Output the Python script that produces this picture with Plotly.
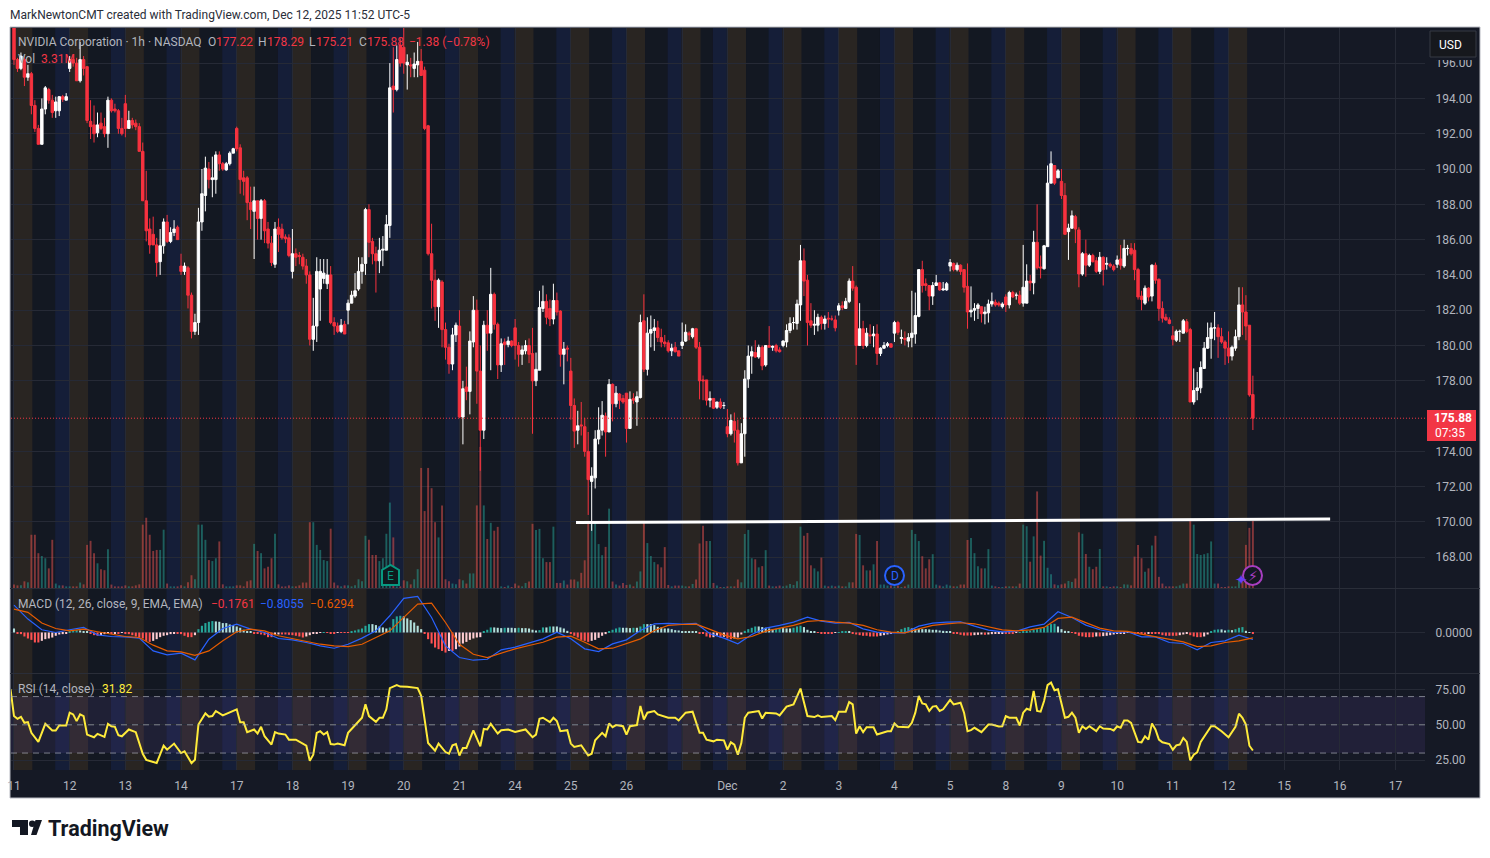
import plotly.graph_objects as go

WIDTH, HEIGHT = 1490, 858
FONT = "Roboto"

# hourly bars, one row per session (4:00-20:00, 16 bars; the half day has 13)
open_prices = [
    198.2, 196.2, 195.7, 196.2, 195.2, 195.4, 193.6, 192.3, 191.4, 193.4, 194.5, 193.9, 193.3, 193.3, 194.1, 193.9,
    195.7, 196.2, 196.0, 195.0, 196.2, 195.8, 192.7, 192.5, 192.05, 192.6, 192.4, 192.0, 193.9, 193.4, 193.3, 192.3,
    193.7, 192.3, 192.75, 192.6, 192.4, 191.0, 188.2, 186.6, 186.3, 185.7, 184.75, 185.65, 187.0, 185.9, 186.4, 186.7,
    184.5, 184.2, 184.4, 182.85, 180.8, 181.3, 187.0, 188.5, 190.0, 189.4, 189.4, 190.8, 190.3, 189.95, 190.3, 190.9,
    192.3, 191.2, 189.5, 189.5, 188.1, 187.6, 188.2, 187.2, 188.2, 186.6, 185.8, 184.6, 186.7, 186.6, 186.15, 186.1,
    184.2, 185.2, 185.1, 185.0, 184.5, 184.0, 180.35, 181.1, 183.2, 183.8, 183.5, 184.0, 181.3, 181.1, 180.8, 181.2,
    182.0, 182.4, 182.8, 183.2, 184.2, 184.65, 187.7, 185.9, 185.2, 184.8, 185.4, 185.4, 186.8, 194.7, 194.5, 197.0,
    196.9, 195.9, 195.9, 195.7, 195.9, 196.1, 195.6, 192.45, 185.2, 183.7, 182.2, 183.6, 180.9, 179.9, 178.95, 180.6,
    181.1, 175.95, 177.65, 177.4, 180.2, 182.0, 178.55, 175.2, 181.15, 180.7, 182.9, 181.2, 178.9, 180.2, 180.05, 180.25,
    181.0, 180.0, 179.5, 179.7, 180.0, 179.55, 178.0, 178.6, 182.1, 182.5, 182.1, 181.5, 182.55, 181.95, 179.5, 179.85,
    178.55, 176.6, 175.2, 175.5, 175.4, 174.0, 172.3, 172.5, 174.7, 175.2, 176.0, 175.1, 177.8, 176.7, 177.25, 177.0,
    177.3, 175.3, 177.0, 176.8, 177.05, 181.4, 178.65, 180.7, 180.85, 181.0, 180.45, 180.2, 180.15, 179.7, 179.9, 179.7,
    180.0, 180.25, 180.7, 180.5, 180.95, 179.9, 178.05, 178.05, 176.9, 177.0, 176.5, 176.8, 176.6,
    175.4, 175.0, 175.7, 175.2, 173.35, 175.0, 178.1, 179.4, 179.6, 179.35, 179.9, 178.9, 180.0, 179.9, 180.0, 179.75,
    180.0, 180.2, 180.85, 181.3, 181.25, 182.3, 184.8, 183.7, 181.4, 181.15, 181.15, 181.6, 181.25, 181.55, 181.5, 181.45,
    182.0, 182.25, 182.1, 182.5, 183.65, 183.3, 180.0, 180.95, 180.0, 180.6, 180.55, 180.65, 179.55, 179.85, 180.0, 180.1,
    180.7, 181.3, 180.4, 180.4, 180.25, 180.45, 180.65, 181.65, 184.3, 183.5, 183.4, 182.8, 183.4, 183.55, 183.15, 183.15,
    184.5, 184.65, 184.3, 184.55, 184.3, 183.35, 181.9, 182.0, 182.1, 182.2, 181.8, 181.85, 182.35, 182.45, 182.4, 182.2,
    182.75, 182.3, 183.0, 182.85, 182.85, 182.4, 182.4, 183.65, 183.55, 185.85, 184.45, 184.35, 185.6, 189.2, 190.2, 189.5,
    189.3, 188.5, 186.45, 186.65, 187.3, 186.55, 184.05, 185.2, 184.55, 185.1, 184.8, 184.2, 185.0, 184.6, 184.6, 184.5,
    184.6, 184.9, 184.5, 185.5, 185.5, 185.4, 184.3, 182.8, 182.4, 183.25, 182.8, 184.55, 183.75, 182.1, 181.6, 181.45,
    180.55, 180.3, 180.8, 180.7, 181.35, 180.9, 176.8, 177.45, 177.6, 178.7, 179.85, 180.4, 181.0, 181.0, 180.5, 180.2,
    179.85, 179.4, 179.85, 180.5, 182.3, 181.9, 181.15, 177.22,
]
high_prices = [
    198.5, 196.3, 196.6, 196.4, 195.9, 195.5, 193.9, 192.5, 194.0, 194.7, 194.6, 194.2, 194.1, 194.1, 194.2, 194.3,
    196.4, 196.5, 196.3, 197.2, 196.4, 195.8, 193.9, 193.6, 193.2, 193.2, 192.9, 194.1, 194.0, 193.7, 193.4, 192.9,
    194.2, 193.3, 192.9, 192.8, 192.6, 191.5, 189.9, 187.2, 187.3, 186.1, 186.6, 187.2, 187.4, 186.7, 187.1, 186.8,
    185.2, 184.7, 184.5, 183.0, 181.8, 187.8, 190.0, 190.7, 190.4, 190.7, 191.0, 191.0, 190.4, 190.4, 191.0, 191.2,
    192.4, 191.4, 189.9, 189.6, 189.0, 189.0, 188.2, 188.3, 188.3, 187.0, 186.2, 187.0, 187.2, 186.9, 186.3, 186.3,
    186.6, 185.5, 185.3, 185.2, 184.9, 184.2, 182.7, 185.0, 184.9, 184.9, 184.9, 184.5, 181.6, 181.3, 181.5, 181.4,
    182.6, 183.1, 184.1, 185.0, 185.0, 187.8, 188.0, 186.1, 185.6, 186.1, 186.2, 187.4, 196.0, 196.9, 197.0, 197.4,
    198.5, 196.5, 196.3, 196.6, 197.2, 196.8, 195.8, 192.5, 186.9, 184.3, 183.8, 183.7, 181.3, 180.1, 181.0, 181.3,
    182.0, 178.0, 178.8, 180.8, 182.8, 182.6, 180.0, 181.4, 182.0, 184.4, 183.0, 181.3, 180.4, 180.4, 180.5, 180.3,
    181.5, 180.2, 180.0, 180.3, 180.4, 181.0, 179.6, 183.1, 183.4, 182.9, 182.6, 183.5, 183.0, 182.0, 180.2, 180.0,
    179.3, 177.0, 176.3, 176.8, 175.9, 175.1, 173.1, 175.2, 176.5, 176.85, 176.2, 178.1, 177.85, 177.7, 177.3, 177.2,
    177.3, 177.4, 177.3, 177.4, 181.75, 182.9, 181.6, 181.7, 181.5, 181.4, 180.95, 180.6, 180.3, 180.1, 180.2, 179.7,
    181.3, 181.2, 180.8, 181.0, 181.0, 180.2, 178.3, 178.05, 177.4, 177.0, 176.8, 177.0, 176.8,
    176.4, 176.1, 176.2, 175.8, 175.6, 178.6, 180.0, 179.95, 180.3, 180.05, 180.0, 180.0, 181.1, 180.0, 180.1, 179.9,
    180.3, 181.2, 181.6, 181.6, 182.6, 185.7, 185.5, 184.0, 182.4, 182.0, 181.8, 181.7, 181.7, 181.9, 181.7, 181.7,
    182.4, 182.5, 182.7, 183.8, 184.5, 183.4, 182.4, 181.4, 181.0, 181.2, 181.1, 181.2, 179.9, 180.2, 180.2, 180.1,
    181.4, 181.4, 180.9, 180.8, 180.7, 183.1, 183.0, 184.3, 184.8, 183.8, 183.4, 183.6, 184.0, 183.6, 183.6, 183.6,
    184.9, 184.7, 184.7, 184.6, 184.3, 184.65, 183.35, 182.4, 182.4, 182.2, 182.2, 182.6, 183.0, 182.6, 182.5, 182.45,
    182.9, 183.1, 183.1, 183.0, 183.1, 185.7, 184.6, 184.0, 186.5, 188.0, 185.1, 185.7, 190.2, 191.0, 190.2, 190.0,
    190.0, 189.2, 186.9, 187.65, 187.4, 186.7, 185.3, 186.0, 185.2, 185.2, 185.0, 185.3, 185.05, 185.0, 184.7, 184.6,
    185.1, 185.7, 186.0, 185.7, 185.8, 185.8, 184.4, 183.1, 183.4, 183.3, 184.6, 184.7, 183.8, 182.5, 181.8, 181.6,
    181.1, 180.9, 180.9, 181.5, 181.5, 181.0, 178.7, 178.5, 179.1, 180.2, 181.3, 181.3, 181.9, 181.2, 181.0, 180.3,
    180.8, 180.0, 180.9, 183.3, 183.3, 182.85, 181.15, 178.29,
]
low_prices = [
    195.9, 195.5, 195.6, 194.7, 195.0, 193.1, 192.1, 191.4, 191.4, 193.1, 193.7, 192.9, 192.9, 193.0, 193.8, 193.9,
    195.5, 195.8, 195.0, 194.9, 195.3, 192.6, 191.7, 191.5, 191.8, 192.2, 191.8, 191.2, 193.2, 193.2, 192.0, 191.9,
    191.8, 192.3, 192.3, 192.2, 191.0, 188.2, 185.9, 185.2, 185.7, 183.9, 184.0, 185.2, 185.8, 185.8, 186.2, 186.0,
    184.0, 184.0, 182.1, 180.4, 180.6, 180.6, 186.5, 187.6, 188.9, 188.4, 188.6, 189.9, 189.9, 189.9, 190.2, 190.9,
    191.0, 188.6, 188.5, 187.1, 186.6, 184.9, 186.0, 186.0, 185.8, 185.5, 184.5, 184.4, 185.3, 186.0, 185.8, 185.0,
    183.8, 184.5, 184.6, 184.3, 183.5, 180.0, 179.7, 180.2, 181.4, 183.5, 183.2, 181.2, 180.6, 180.7, 180.7, 180.65,
    181.2, 182.4, 182.7, 183.1, 183.5, 184.0, 185.0, 184.6, 183.0, 184.1, 184.5, 185.4, 186.1, 193.2, 194.4, 195.8,
    195.4, 194.5, 195.2, 195.2, 195.2, 195.3, 192.2, 185.1, 182.1, 181.4, 181.0, 179.9, 179.2, 178.4, 178.6, 180.2,
    175.9, 174.4, 176.9, 176.1, 179.9, 176.7, 172.9, 174.7, 179.7, 178.6, 180.9, 178.1, 178.5, 178.9, 179.9, 179.9,
    179.2, 178.8, 178.9, 179.5, 179.0, 175.0, 177.7, 178.6, 181.9, 181.2, 181.1, 181.2, 181.7, 178.8, 177.8, 179.1,
    175.8, 174.2, 174.4, 174.9, 173.7, 170.4, 169.5, 171.9, 174.4, 174.9, 173.7, 175.1, 175.7, 176.5, 176.4, 176.7,
    174.5, 175.3, 176.7, 175.45, 177.0, 178.5, 178.3, 179.9, 179.7, 180.2, 179.9, 179.9, 179.6, 179.4, 179.6, 179.4,
    179.8, 180.2, 180.3, 180.4, 179.8, 176.95, 176.9, 176.6, 176.5, 176.4, 176.4, 176.4, 176.4,
    174.8, 174.9, 174.5, 173.2, 173.4, 173.7, 177.6, 178.4, 179.3, 179.25, 178.6, 178.8, 179.9, 179.7, 179.6, 179.6,
    179.9, 179.9, 180.7, 180.9, 180.9, 181.4, 182.8, 180.0, 181.0, 180.6, 180.8, 180.9, 180.9, 181.0, 181.4, 180.8,
    181.7, 182.0, 182.1, 182.4, 183.1, 178.9, 180.0, 179.8, 179.9, 180.1, 179.9, 178.9, 179.4, 179.8, 179.9, 179.9,
    180.2, 180.6, 180.1, 180.0, 179.9, 179.9, 180.1, 181.6, 183.0, 183.1, 182.0, 182.3, 183.4, 183.1, 183.1, 183.1,
    184.2, 184.2, 184.2, 184.0, 183.0, 180.95, 181.6, 181.4, 181.5, 181.3, 181.2, 181.3, 182.2, 182.2, 182.2, 182.1,
    181.9, 182.1, 182.7, 182.6, 182.3, 182.2, 182.4, 183.1, 182.9, 184.3, 183.8, 184.3, 185.6, 189.2, 189.1, 189.5,
    188.3, 186.3, 184.85, 186.6, 185.8, 183.3, 183.95, 183.9, 184.45, 184.7, 184.1, 184.05, 183.4, 184.3, 184.4, 184.2,
    184.4, 184.3, 184.4, 185.1, 185.1, 183.7, 182.6, 182.0, 182.3, 182.5, 182.5, 183.5, 181.4, 181.3, 181.4, 181.2,
    180.0, 180.2, 180.2, 180.7, 180.7, 176.8, 176.65, 176.9, 177.3, 178.7, 179.8, 179.25, 180.3, 179.3, 180.1, 178.9,
    179.0, 179.15, 179.7, 180.3, 180.6, 180.3, 177.1, 175.21,
]
close_prices = [
    196.2, 195.7, 196.4, 195.2, 195.4, 193.6, 192.3, 191.4, 193.4, 194.6, 193.9, 193.2, 193.8, 194.1, 193.95, 194.1,
    196.2, 196.0, 195.0, 196.2, 195.7, 192.75, 192.4, 192.0, 192.5, 192.3, 192.0, 193.9, 193.3, 193.3, 192.3, 192.0,
    192.3, 192.75, 192.5, 192.4, 191.0, 188.2, 186.5, 185.7, 185.7, 184.7, 185.65, 187.0, 185.9, 186.4, 186.6, 186.0,
    184.2, 184.5, 182.85, 180.8, 181.3, 187.0, 188.6, 190.05, 189.4, 189.5, 190.8, 190.3, 190.0, 190.3, 190.9, 191.15,
    191.15, 189.4, 189.3, 188.1, 187.7, 188.2, 187.2, 188.2, 186.5, 185.8, 184.7, 186.6, 186.3, 186.1, 186.05, 185.1,
    185.2, 185.0, 185.05, 184.5, 184.0, 180.35, 181.1, 184.2, 184.2, 184.1, 184.0, 181.3, 181.1, 180.8, 181.15, 180.65,
    182.4, 182.85, 183.1, 184.2, 184.6, 187.7, 185.85, 185.2, 184.8, 185.4, 185.45, 186.85, 194.6, 194.5, 196.2, 196.0,
    196.0, 196.05, 195.85, 195.95, 196.1, 195.3, 192.3, 185.2, 183.7, 182.2, 183.7, 180.9, 179.9, 178.95, 180.6, 181.15,
    175.95, 177.55, 177.4, 180.25, 182.0, 178.55, 175.2, 181.15, 180.7, 182.9, 181.2, 178.9, 180.1, 180.05, 180.25, 180.0,
    180.0, 179.5, 179.75, 180.0, 179.5, 178.0, 178.65, 182.15, 182.5, 181.6, 181.5, 182.55, 181.9, 179.5, 179.8, 179.8,
    176.6, 175.15, 175.45, 175.45, 174.0, 172.4, 172.6, 174.7, 175.2, 176.05, 175.1, 177.8, 176.7, 177.3, 176.9, 176.8,
    175.3, 176.95, 176.9, 177.1, 181.3, 178.65, 180.7, 180.9, 181.0, 180.45, 180.2, 180.1, 179.7, 179.85, 179.65, 179.4,
    180.2, 180.75, 180.6, 180.95, 179.9, 178.0, 178.0, 176.9, 177.0, 176.45, 176.8, 176.5, 176.6,
    175.0, 175.75, 175.2, 173.35, 175.0, 178.1, 179.4, 179.65, 179.35, 179.9, 178.85, 180.0, 179.9, 179.95, 179.7, 179.65,
    180.25, 180.85, 181.25, 181.3, 182.35, 184.8, 183.65, 181.3, 181.15, 181.2, 181.6, 181.25, 181.5, 181.5, 181.5, 181.0,
    182.25, 182.15, 182.5, 183.65, 183.25, 180.0, 180.95, 180.0, 180.7, 180.55, 180.65, 179.55, 179.85, 180.0, 180.1, 179.9,
    181.3, 180.75, 180.45, 180.35, 180.45, 180.7, 181.7, 184.3, 183.4, 183.4, 182.8, 183.4, 183.55, 183.15, 183.2, 183.5,
    184.7, 184.3, 184.55, 184.2, 183.3, 181.9, 182.0, 182.1, 182.3, 181.8, 181.9, 182.35, 182.5, 182.3, 182.3, 182.35,
    182.3, 183.0, 182.75, 182.85, 182.4, 183.3, 183.65, 183.55, 185.85, 184.4, 184.4, 185.65, 189.2, 190.3, 189.2, 189.9,
    188.5, 186.3, 186.65, 187.35, 186.6, 184.05, 185.2, 184.55, 185.1, 184.75, 184.2, 185.0, 184.3, 184.65, 184.5, 184.3,
    184.85, 184.55, 185.5, 185.5, 185.2, 184.3, 182.75, 182.6, 183.25, 182.75, 184.55, 183.7, 182.1, 181.55, 181.45, 181.25,
    180.35, 180.8, 180.8, 181.4, 180.8, 176.8, 177.45, 177.6, 178.75, 179.85, 180.45, 181.0, 181.0, 180.5, 180.2, 179.85,
    179.4, 179.9, 180.5, 182.3, 181.9, 181.1, 177.2, 175.88,
]
volumes = [
    0.17, 0.13, 0.13, 0.33, 0.28, 2.63, 2.63, 1.72, 1.58, 1.47, 0.97, 2.38, 0.22, 0.13, 0.13, 0.08,
    0.08, 0.08, 0.08, 0.27, 0.18, 2.13, 2.33, 1.72, 1.22, 0.93, 0.88, 1.92, 0.17, 0.08, 0.08, 0.08,
    0.13, 0.08, 0.08, 0.13, 0.18, 3.13, 3.47, 2.63, 1.83, 1.88, 1.88, 2.88, 0.22, 0.08, 0.08, 0.08,
    0.13, 0.08, 0.28, 0.63, 0.43, 3.13, 3.13, 2.38, 1.38, 1.33, 1.47, 2.3, 0.18, 0.08, 0.08, 0.08,
    0.13, 0.13, 0.08, 0.33, 0.38, 2.18, 1.83, 1.72, 0.97, 1.05, 1.47, 2.68, 0.18, 0.08, 0.08, 0.13,
    0.08, 0.08, 0.13, 0.27, 0.27, 3.25, 3.25, 2.13, 1.88, 1.38, 1.33, 2.93, 0.27, 0.13, 0.08, 0.13,
    0.13, 0.08, 0.13, 0.43, 0.33, 2.58, 2.38, 1.63, 1.63, 1.33, 1.47, 2.68, 4.22, 2.5, 0.08, 0.08,
    0.38, 0.33, 0.18, 0.43, 0.93, 5.93, 3.8, 5.93, 4.93, 3.25, 2.5, 4.08, 0.43, 0.33, 0.22, 0.18,
    0.43, 0.38, 0.22, 0.72, 0.72, 4.08, 6.97, 4.08, 2.42, 3.22, 2.83, 3.02, 0.08, 0.05, 0.12, 0.05,
    0.22, 0.12, 0.08, 0.25, 0.32, 3.17, 2.87, 2.92, 1.47, 1.28, 1.28, 3.03, 0.25, 0.25, 0.37, 0.17,
    0.42, 0.42, 0.32, 0.75, 1.37, 3.28, 3.17, 3.25, 2.17, 1.62, 2.03, 3.92, 0.32, 0.17, 0.12, 0.25,
    0.15, 0.17, 0.08, 0.32, 0.82, 3.25, 2.22, 1.58, 1.28, 1.17, 1.02, 2.02, 0.15, 0.08, 0.12, 0.12,
    0.12, 0.08, 0.08, 0.2, 0.42, 2.2, 3.08, 2.32, 2.32, 0.25, 0.12, 0.05, 0.05,
    0.08, 0.08, 0.08, 0.42, 0.28, 2.67, 2.87, 1.47, 1.42, 1.02, 1.08, 1.87, 0.12, 0.08, 0.08, 0.12,
    0.08, 0.12, 0.2, 0.15, 0.33, 3.03, 2.58, 2.72, 1.12, 0.97, 0.82, 1.5, 0.12, 0.08, 0.12, 0.08,
    0.12, 0.08, 0.08, 0.28, 0.28, 2.67, 2.62, 1.12, 0.87, 0.87, 1.17, 2.32, 0.17, 0.17, 0.12, 0.12,
    0.08, 0.12, 0.05, 0.08, 0.17, 2.87, 2.67, 2.32, 1.57, 0.97, 1.42, 1.67, 0.17, 0.12, 0.08, 0.17,
    0.12, 0.08, 0.08, 0.17, 0.17, 2.37, 2.47, 1.72, 1.07, 0.97, 0.97, 1.92, 0.12, 0.08, 0.05, 0.05,
    0.08, 0.08, 0.08, 0.08, 0.22, 3.13, 3.05, 1.3, 2.55, 4.77, 1.6, 2.33, 1.0, 0.68, 0.18, 0.13,
    0.18, 0.22, 0.35, 0.3, 0.47, 2.75, 2.68, 1.68, 1.05, 0.93, 1.05, 1.93, 0.08, 0.08, 0.05, 0.08,
    0.08, 0.05, 0.18, 0.17, 0.13, 1.55, 2.13, 1.47, 0.8, 0.97, 2.1, 2.58, 0.55, 0.22, 0.08, 0.08,
    0.08, 0.08, 0.13, 0.22, 0.22, 3.38, 3.13, 1.68, 1.63, 1.67, 1.72, 2.3, 0.22, 0.22, 0.05, 0.05,
    0.08, 0.08, 0.08, 0.38, 0.3, 2.13, 2.97, 3.31,
]
macd_hist = [
    0.46, -0.08, -0.19, -0.46, -0.69, -0.85, -1.15, -1.15, -0.96, -0.77, -0.69, -0.58, -0.38, -0.23, -0.19, -0.12,
    0.12, 0.23, 0.27, 0.23, 0.15, 0.08, -0.12, -0.31, -0.38, -0.31, -0.19, -0.12, -0.12, -0.08, -0.08, -0.04,
    -0.08, -0.19, -0.31, -0.46, -0.54, -0.69, -0.96, -1.08, -0.96, -0.77, -0.54, -0.38, -0.31, -0.19, -0.12, -0.12,
    -0.19, -0.38, -0.54, -0.54, -0.31, 0.38, 0.77, 1.08, 1.23, 1.31, 1.27, 1.23, 1.08, 1.08, 0.92, 0.85,
    0.69, 0.54, 0.31, 0.15, 0.08, -0.08, -0.15, -0.23, -0.31, -0.54, -0.54, -0.31, -0.23, -0.23, -0.23, -0.27,
    -0.31, -0.38, -0.46, -0.58, -0.46, -0.31, -0.15, -0.08, -0.04, 0.04, -0.04, -0.08, -0.12, -0.04, -0.04, -0.04,
    -0.04, 0.08, 0.23, 0.35, 0.46, 0.77, 0.96, 0.96, 0.85, 0.69, 0.58, 0.46, 0.58, 1.54, 1.85, 1.92,
    1.85, 1.62, 1.42, 1.15, 0.77, 0.38, -0.08, -0.77, -1.27, -1.73, -1.92, -2.12, -2.31, -2.12, -2.12, -1.92,
    -1.62, -1.27, -1.08, -0.85, -0.69, -0.58, -0.54, 0.08, 0.31, 0.58, 0.58, 0.54, 0.5, 0.54, 0.54, 0.54,
    0.5, 0.54, 0.5, 0.5, 0.46, 0.31, 0.23, 0.27, 0.58, 0.58, 0.69, 0.69, 0.69, 0.58, 0.46, 0.19,
    -0.08, -0.38, -0.58, -0.85, -0.96, -1.08, -0.96, -0.85, -0.62, -0.38, -0.19, 0.15, 0.31, 0.46, 0.58, 0.54,
    0.54, 0.5, 0.54, 0.54, 0.69, 0.96, 0.96, 0.96, 0.85, 0.65, 0.58, 0.46, 0.46, 0.38, 0.27, 0.23,
    0.15, 0.15, 0.12, 0.12, 0.12, -0.08, -0.15, -0.46, -0.58, -0.54, -0.38, -0.58, -0.5,
    -0.69, -0.77, -0.69, -0.58, -0.23, 0.19, 0.38, 0.54, 0.69, 0.69, 0.62, 0.54, 0.46, 0.38, 0.42, 0.5,
    0.5, 0.46, 0.46, 0.54, 0.69, 0.77, 0.62, 0.31, 0.15, 0.08, -0.04, -0.08, -0.08, -0.08, -0.08, -0.04,
    0.04, 0.08, 0.12, 0.08, -0.08, -0.23, -0.31, -0.38, -0.38, -0.46, -0.46, -0.46, -0.38, -0.31, -0.23, -0.15,
    0.04, 0.15, 0.38, 0.54, 0.62, 0.46, 0.38, 0.38, 0.38, 0.38, 0.35, 0.31, 0.31, 0.23, 0.19, 0.15,
    0.08, -0.08, -0.15, -0.27, -0.35, -0.35, -0.35, -0.31, -0.27, -0.23, -0.27, -0.23, -0.19, -0.15, -0.12, -0.08,
    -0.08, -0.08, -0.08, -0.04, 0.04, 0.12, 0.19, 0.23, 0.31, 0.38, 0.46, 0.54, 0.77, 0.96, 1.0, 0.69,
    0.38, 0.19, 0.08, -0.04, -0.08, -0.38, -0.46, -0.54, -0.54, -0.54, -0.46, -0.46, -0.42, -0.38, -0.31, -0.23,
    -0.15, -0.12, -0.08, -0.04, -0.04, -0.08, -0.15, -0.19, -0.23, -0.15, -0.15, -0.15, -0.19, -0.31, -0.38, -0.38,
    -0.38, -0.38, -0.31, -0.23, -0.12, -0.31, -0.46, -0.54, -0.54, -0.46, -0.23, 0.15, 0.31, 0.35, 0.35, 0.23,
    0.31, 0.27, 0.38, 0.54, 0.62, 0.19, 0.04, -0.18,
]
# macd and signal read every fourth bar
macd_line = [
    3.15, 1.54, 0.31, 0.0, 0.31, 0.58, -0.27, -0.46, -0.5, -0.65, -2.12, -2.58, -2.38, -3.15, -0.77, 0.46, 0.96, 0.38,
    0.0, -0.69, -0.85, -1.15, -1.54, -1.81, -1.35, -0.65, 0.19, 1.92, 3.92, 4.15, 1.73, -1.54, -2.88, -3.19, -3.08,
    -2.0, -1.69, -1.23, -0.73, 0.04, -0.73, -1.88, -2.19, -1.31, -0.85, 0.23, 1.0, 1.04, 0.96, 1.04, -0.15, -0.65, -1.31,
    -0.23, 0.5, 0.81, 1.19, 1.77, 1.31, 1.08, 1.15, 0.42, 0.04, -0.04, -0.04, 0.73, 1.08, 1.19, 1.23, 0.73, 0.27,
    0.08, 0.12, 0.65, 0.96, 2.38, 1.73, 0.85, 0.31, 0.0, 0.08, -0.5, -0.5, -1.15, -1.27, -2.0, -1.15, -0.96, -0.31, -0.8055,
]
signal_line = [
    2.69, 2.31, 1.08, 0.46, 0.19, 0.38, 0.08, -0.19, -0.46, -0.58, -1.46, -2.12, -2.23, -2.62, -2.12, -0.96, 0.08, 0.38,
    0.19, -0.38, -0.69, -0.96, -1.35, -1.54, -1.62, -1.35, -0.58, 0.19, 1.73, 3.27, 3.38, 1.15, -1.35, -2.5, -2.88,
    -2.38, -1.88, -1.5, -1.12, -0.54, -0.42, -1.12, -1.88, -1.81, -1.23, -0.73, 0.23, 0.81, 0.92, 0.96, 0.35, -0.27, -0.73,
    -0.46, 0.15, 0.5, 0.81, 1.27, 1.38, 1.19, 1.08, 0.81, 0.31, 0.04, -0.04, 0.42, 0.81, 1.0, 1.12, 1.0, 0.69,
    0.31, 0.19, 0.31, 0.58, 1.62, 1.77, 1.15, 0.5, 0.19, 0.12, -0.19, -0.5, -0.85, -1.08, -1.62, -1.54, -1.15, -0.96, -0.6294,
]
macd_every = 4
rsi_bars = [
    -1, 0, 1, 2, 3, 4, 5, 7, 9, 11, 12, 13, 15, 16, 17, 18, 19, 20, 21, 23, 24, 26, 27, 28, 29, 30, 31, 33, 35, 37, 38, 41,
    43, 44, 46, 48, 49, 51, 52, 53, 55, 56, 57, 58, 60, 62, 64, 65, 66, 67, 69, 70, 71, 72, 74, 75, 76, 78, 79, 81, 84, 85,
    86, 87, 88, 89, 90, 91, 92, 93, 95, 96, 99, 100, 101, 102, 104, 105, 106, 107, 108, 110, 111, 113, 116, 117, 119, 121,
    122, 124, 125, 126, 127, 128, 129, 130, 132, 134, 135, 136, 137, 139,
    140, 142, 144, 147, 149, 150, 151, 152, 154, 155, 156, 157, 159, 160, 161, 163, 165, 166, 167, 169, 170, 171, 172, 173,
    175, 176, 177, 179, 180, 181, 182, 184, 185, 188, 190, 191, 193, 195, 197, 198, 199, 201, 202, 204, 205, 206, 207, 208,
    209, 210, 211, 213, 214, 215, 216, 219, 220, 222, 224, 226, 228, 230, 231, 232, 235, 236, 237, 239, 240, 241, 242, 243,
    244, 245, 247, 248, 251, 252, 253, 254, 257, 258, 259, 260, 261, 262, 263, 264, 265, 266, 267, 269, 270, 272, 273, 274,
    275, 276, 278, 280, 281, 283,
    284, 285, 286, 288, 289, 290, 291, 292, 293, 294, 295, 296, 297, 298, 299, 300, 302, 303, 304, 305, 306, 307, 308, 309,
    311, 312, 313, 315, 316, 317, 318, 319, 320, 321, 323, 324, 325, 326, 327, 328, 329, 330, 332, 333, 334, 335, 336, 337,
    338, 339, 340, 341, 343, 344, 345, 347, 349, 351, 352, 353, 354, 355, 356,
]
rsi_values = [
    75.2, 56.2, 54.3, 55.7, 51.4, 51.9, 44.3, 37.9, 50.7, 46.0, 46.0, 49.5, 49.5, 58.6, 57.4, 52.6, 57.4, 56.2, 43.1, 41.2, 43.6, 41.4, 50.7, 49.0, 48.6, 42.6, 41.9, 46.7, 44.8, 29.5, 25.2, 22.9,
    35.2, 32.4, 36.7, 30.0, 31.2, 22.9, 25.2, 50.2, 58.1, 55.7, 56.2, 59.8, 56.7, 58.6, 61.0, 51.9, 51.9, 44.8, 46.7, 43.8, 48.6, 41.9, 36.0, 44.8, 43.8, 43.1, 39.5, 39.5, 35.2, 24.5,
    28.8, 44.3, 45.5, 43.1, 44.8, 36.4, 36.0, 36.7, 35.5, 44.3, 52.6, 55.0, 64.5, 56.2, 52.1, 55.0, 55.0, 61.0, 76.0, 78.1, 77.1, 76.9, 76.0, 70.5, 37.1, 31.7,
    36.7, 30.7, 29.5, 35.5, 36.4, 28.3, 33.6, 33.6, 46.0, 34.8, 47.1, 46.7, 50.7, 43.8,
    46.2, 46.7, 45.0, 46.7, 41.2, 43.1, 54.3, 55.0, 51.9, 55.0, 52.6, 45.5, 46.2, 36.7, 34.3, 35.5, 28.3, 29.5, 39.0, 44.3, 41.9, 51.0, 48.3, 49.8,
    49.0, 43.1, 49.0, 49.8, 63.3, 53.8, 58.6, 59.8, 57.4, 55.0, 55.0, 53.1, 58.6, 59.3, 44.3, 44.3, 39.5, 38.3, 39.5, 39.0, 32.4, 37.6, 36.0, 28.8,
    37.1, 55.0, 58.6, 59.3, 59.8, 54.5, 58.6, 58.1, 56.7, 62.9, 64.5, 75.7, 56.2, 55.5, 56.7, 55.5, 56.2, 53.3, 59.3, 59.3, 66.2, 64.5, 43.8, 49.0,
    44.8, 48.3, 48.3, 43.1, 45.5, 45.5, 51.0, 48.6, 48.3, 51.4, 58.6, 70.5, 65.2, 64.5, 59.8, 62.9, 63.3, 59.8, 61.0, 67.6, 64.5, 65.7, 58.6, 45.5,
    46.2, 47.9, 44.8, 50.2, 50.2, 48.8,
    49.0, 56.2, 55.0, 55.0, 49.5, 58.6, 61.4, 60.5, 74.0, 59.8, 59.3, 66.9, 78.1, 80.0, 74.5, 75.2, 55.0, 55.7, 58.6, 55.0, 44.3, 49.0, 47.1, 49.0,
    45.5, 49.0, 47.4, 47.1, 46.0, 49.0, 47.9, 53.1, 53.1, 51.4, 37.9, 37.6, 41.9, 39.5, 51.0, 46.7, 39.5, 37.6, 36.4, 32.4, 35.5, 36.0, 40.7, 37.9,
    24.8, 28.8, 30.5, 37.9, 45.5, 49.0, 49.0, 45.5, 41.2, 48.6, 57.9, 55.0, 50.2, 35.2, 31.82,
]
trend_bars = [161.5, 378.2]
trend_prices = [169.97, 170.17]

day_labels = ["11", "12", "13", "14", "17", "18", "19", "20", "21", "24", "25", "26", "", "Dec", "2", "3", "4", "5",
              "8", "9", "10", "11", "12", "15", "16", "17"]
session_bars = [16] * 12 + [13] + [16] * 13
half_day = 12
last_session = 22
price_ticks = [168, 170, 172, 174, 178, 180, 182, 184, 186, 188, 190, 192, 194, 196]
rsi_ticks = [25, 50, 75]

BG = "#151925"
GRID = "#262a36"
TEXT = "#b2b5be"
RED = "#f7323f"
LEGEND_RED = "#f23645"
BROWN = "#292522"
BLUE = "#151e38"
DARK = "#131822"


def paper_x(px):
    return px / WIDTH


def paper_y(py):
    return 1 - py / HEIGHT


def px_path(points):
    return "M " + " L ".join(f"{paper_x(x):.5f},{paper_y(y):.5f}" for x, y in points) + " Z"


def label(px, py, text, color=TEXT, size=12, anchor="left", font=FONT):
    return dict(xref="paper", yref="paper", x=paper_x(px), y=paper_y(py), text=text, showarrow=False,
                xanchor=anchor, yanchor="middle", font=dict(family=font, size=size, color=color),
                borderpad=0, xshift=-1 if anchor == "left" else 0)


def hist_colour(i):
    rising = i > 0 and macd_hist[i] > macd_hist[i - 1]
    if macd_hist[i] >= 0:
        return "#26a69a" if rising else "#b2dfdb"
    return "#ffcdd2" if rising else "#ff5252"


bars = list(range(len(close_prices)))
assert len(open_prices) == len(high_prices) == len(low_prices) == len(close_prices) == len(volumes) == len(macd_hist)
assert len(rsi_bars) == len(rsi_values)
macd_bars = bars[::macd_every]
assert len(macd_bars) == len(macd_line) == len(signal_line)

day_starts = [sum(session_bars[:n]) for n in range(len(session_bars))]
x_range = [-0.86, 405.46]

fig = go.Figure()

vol_colours = ["rgba(38,166,154,0.5)" if c >= o else "rgba(239,83,80,0.5)"
               for o, c in zip(open_prices, close_prices)]
fig.add_trace(go.Bar(x=bars, y=volumes, marker=dict(color=vol_colours, line_width=0), width=0.55,
                     xaxis="x", yaxis="y"))
fig.add_trace(go.Candlestick(
    x=bars, open=open_prices, high=high_prices, low=low_prices, close=close_prices,
    increasing=dict(line=dict(color="#ffffff", width=1), fillcolor="#ffffff"),
    decreasing=dict(line=dict(color=RED, width=1), fillcolor=RED),
    whiskerwidth=0, xaxis="x", yaxis="y4"))
fig.add_trace(go.Scatter(x=trend_bars, y=trend_prices, mode="lines", line=dict(color="#ffffff", width=3),
                         xaxis="x", yaxis="y4"))

fig.add_trace(go.Bar(x=bars, y=macd_hist, marker=dict(color=[hist_colour(i) for i in bars], line_width=0),
                     width=0.6, xaxis="x2", yaxis="y2"))
fig.add_trace(go.Scatter(x=macd_bars, y=macd_line, mode="lines", line=dict(color="#2962ff", width=1.2),
                         xaxis="x2", yaxis="y2"))
fig.add_trace(go.Scatter(x=macd_bars, y=signal_line, mode="lines", line=dict(color="#e65c00", width=1.2),
                         xaxis="x2", yaxis="y2"))
fig.add_trace(go.Scatter(x=rsi_bars, y=rsi_values, mode="lines", line=dict(color="#ffeb3b", width=2),
                         xaxis="x3", yaxis="y3", cliponaxis=True))

top, bottom = paper_y(28), paper_y(770)
shapes = [dict(type="rect", xref="paper", yref="paper", x0=paper_x(10), x1=paper_x(1480),
               y0=paper_y(798), y1=paper_y(27), fillcolor=BG, line=dict(color="#b8bac2", width=1), layer="below")]


def stripe(x0, x1, colour):
    shapes.append(dict(type="rect", xref="x", yref="paper", x0=x0, x1=x1, y0=bottom, y1=top,
                       fillcolor=colour, line_width=0, layer="below"))


for n in range(last_session + 1):
    s = day_starts[n] - 0.15
    if n == last_session:
        stripe(s, s + 5.5, BROWN)
        continue
    close_at = 9 if n == half_day else 12
    stripe(max(s, x_range[0]), s + 5.5, BROWN)
    stripe(s + 5.5, s + close_at, DARK)
    stripe(s + close_at, s + close_at + 4, BLUE)

shapes.append(dict(type="rect", xref="x3", yref="y3", x0=x_range[0], x1=x_range[1], y0=30, y1=70,
                   fillcolor="rgba(126,87,194,0.12)", line_width=0, layer="below"))
for level in (30, 50, 70):
    shapes.append(dict(type="line", xref="x3", yref="y3", x0=x_range[0], x1=x_range[1], y0=level, y1=level,
                       line=dict(color="rgba(178,181,190,0.65)", width=1, dash="6px,5px"), layer="above"))
shapes.append(dict(type="line", xref="x", yref="y4", x0=x_range[0], x1=x_range[1],
                   y0=close_prices[-1], y1=close_prices[-1],
                   line=dict(color=LEGEND_RED, width=1, dash="1px,2px"), layer="above"))
# pane separators
for py in (588.5, 673.5):
    shapes.append(dict(type="line", xref="paper", yref="paper", x0=paper_x(10), x1=paper_x(1480),
                       y0=paper_y(py), y1=paper_y(py), line=dict(color="#2a2e39", width=1), layer="above"))
# price label and currency button (the button's backing hides the top of the 196 label)
shapes.append(dict(type="rect", xref="paper", yref="paper", x0=paper_x(1427), x1=paper_x(1476),
                   y0=paper_y(441), y1=paper_y(410), fillcolor=LEGEND_RED, line_width=0, layer="above"))
shapes.append(dict(type="rect", xref="paper", yref="paper", x0=paper_x(1427), x1=paper_x(1479),
                   y0=paper_y(60), y1=paper_y(28), fillcolor=BG, line_width=0, layer="above"))
shapes.append(dict(type="rect", xref="paper", yref="paper", x0=paper_x(1430), x1=paper_x(1476),
                   y0=paper_y(57), y1=paper_y(31), fillcolor="#16181d", line=dict(color="#363a45", width=1), layer="above"))
# earnings, dividend and alert markers
shapes.append(dict(type="path", xref="paper", yref="paper", layer="above", fillcolor="#0e1a1e",
                   line=dict(color="#089981", width=2),
                   path=px_path([(382, 570), (390.5, 565), (399, 570), (399, 585), (382, 585)])))
shapes.append(dict(type="circle", xref="paper", yref="paper", layer="above", fillcolor="#131722",
                   line=dict(color="#2962ff", width=2), x0=paper_x(885), x1=paper_x(904),
                   y0=paper_y(585), y1=paper_y(566)))
shapes.append(dict(type="circle", xref="paper", yref="paper", layer="above", fillcolor="#131722",
                   line=dict(color="#a63ec0", width=2), x0=paper_x(1243), x1=paper_x(1262),
                   y0=paper_y(585), y1=paper_y(566)))
# TradingView logo
shapes.append(dict(type="path", xref="paper", yref="paper", layer="above", fillcolor="#131722", line_width=0,
                   path=px_path([(12, 820), (28, 820), (28, 835), (20, 835), (20, 827), (12, 827)])))
shapes.append(dict(type="circle", xref="paper", yref="paper", layer="above", fillcolor="#131722", line_width=0,
                   x0=paper_x(29), x1=paper_x(35.5), y0=paper_y(827), y1=paper_y(820.5)))
shapes.append(dict(type="path", xref="paper", yref="paper", layer="above", fillcolor="#131722", line_width=0,
                   path=px_path([(34, 835), (36.5, 835), (42, 820), (35.5, 820), (31, 835)])))

annotations = [
    label(10, 14.5, "MarkNewtonCMT created with TradingView.com, Dec 12, 2025 11:52 UTC-5", "#2a2e39", 12),
    label(18, 42, "NVIDIA Corporation · 1h · NASDAQ"),
    label(208, 42, "O"), label(216, 42, f"{open_prices[-1]:.2f}", LEGEND_RED),
    label(258, 42, "H"), label(267, 42, f"{high_prices[-1]:.2f}", LEGEND_RED),
    label(309, 42, "L"), label(316, 42, f"{low_prices[-1]:.2f}", LEGEND_RED),
    label(359, 42, "C"), label(367, 42, f"{close_prices[-1]:.2f}", LEGEND_RED),
    label(409, 42, "−1.38 (−0.78%)", LEGEND_RED),
    label(18, 59, "Vol"), label(41, 59, f"{volumes[-1]:.2f}M", LEGEND_RED),
    label(18, 604, "MACD (12, 26, close, 9, EMA, EMA)"),
    label(211, 604, "−0.1761", LEGEND_RED), label(260, 604, "−0.8055", "#2962ff"),
    label(310, 604, "−0.6294", "#e65c00"),
    label(18, 689, "RSI (14, close)"), label(102, 689, "31.82", "#ffeb3b"),
    label(1453, 418.5, f"<b>{close_prices[-1]:.2f}</b>", "#ffffff", 12, "center"),
    label(1450, 433, "07:35", "#ffffff", 12, "center"),
    label(1450, 44.5, "USD", "#ffffff", 12, "center"),
    label(390.5, 576, "E", "#089981", 12, "center"),
    label(894.5, 575.5, "D", "#2962ff", 12, "center"),
    label(1252.5, 575.5, "⚡", "#a63ec0", 14, "center", "DejaVu Sans"),
    label(1241.5, 580, "✦", "#6a3df5", 15, "center", "DejaVu Sans"),
    label(47.5, 828.5, "<b>TradingView</b>", "#131722", 21.5),
]

x_common = dict(range=x_range, tickmode="array", tickvals=day_starts, showgrid=True, gridcolor=GRID, gridwidth=1,
                zeroline=False, showline=False, fixedrange=True, rangeslider_visible=False)
y_common = dict(side="right", zeroline=False, showline=False, fixedrange=True, gridcolor=GRID, gridwidth=1,
                ticks="outside", ticklen=7, tickcolor="rgba(0,0,0,0)", tickfont=dict(family=FONT, size=12, color=TEXT))

fig.update_layout(
    width=WIDTH, height=HEIGHT, autosize=False, margin=dict(l=0, r=0, t=0, b=0, autoexpand=False),
    paper_bgcolor="#ffffff", plot_bgcolor="rgba(0,0,0,0)", showlegend=False, barmode="overlay", boxgap=0,
    shapes=shapes, annotations=annotations, hovermode=False,
    xaxis=dict(x_common, domain=[paper_x(11), paper_x(1425)], anchor="y", showticklabels=False),
    xaxis2=dict(x_common, domain=[paper_x(11), paper_x(1425)], anchor="y2", showticklabels=False),
    xaxis3=dict(x_common, domain=[paper_x(11), paper_x(1425)], anchor="y3", ticktext=day_labels, ticks="outside",
                ticklen=5, tickcolor="rgba(0,0,0,0)", tickfont=dict(family=FONT, size=12, color=TEXT)),
    yaxis=dict(domain=[paper_y(588), paper_y(28)], range=[0, 27.66], visible=False, fixedrange=True),
    yaxis4=dict(y_common, overlaying="y", anchor="x", range=[166.26, 197.99], tickmode="array", tickvals=price_ticks,
                ticktext=[f"{p:.2f}" for p in price_ticks]),
    yaxis2=dict(y_common, domain=[paper_y(673), paper_y(589)], anchor="x2", range=[-4.66, 5.0], tickmode="array",
                tickvals=[0], ticktext=["0.0000"]),
    yaxis3=dict(y_common, domain=[paper_y(770), paper_y(674)], anchor="x3", range=[18, 86], tickmode="array",
                tickvals=rsi_ticks, ticktext=[f"{r:.2f}" for r in rsi_ticks]),
)

fig.write_html("out.html", config=dict(displayModeBar=False),
               post_script="document.body.style.margin='0';document.body.style.overflow='hidden';")
